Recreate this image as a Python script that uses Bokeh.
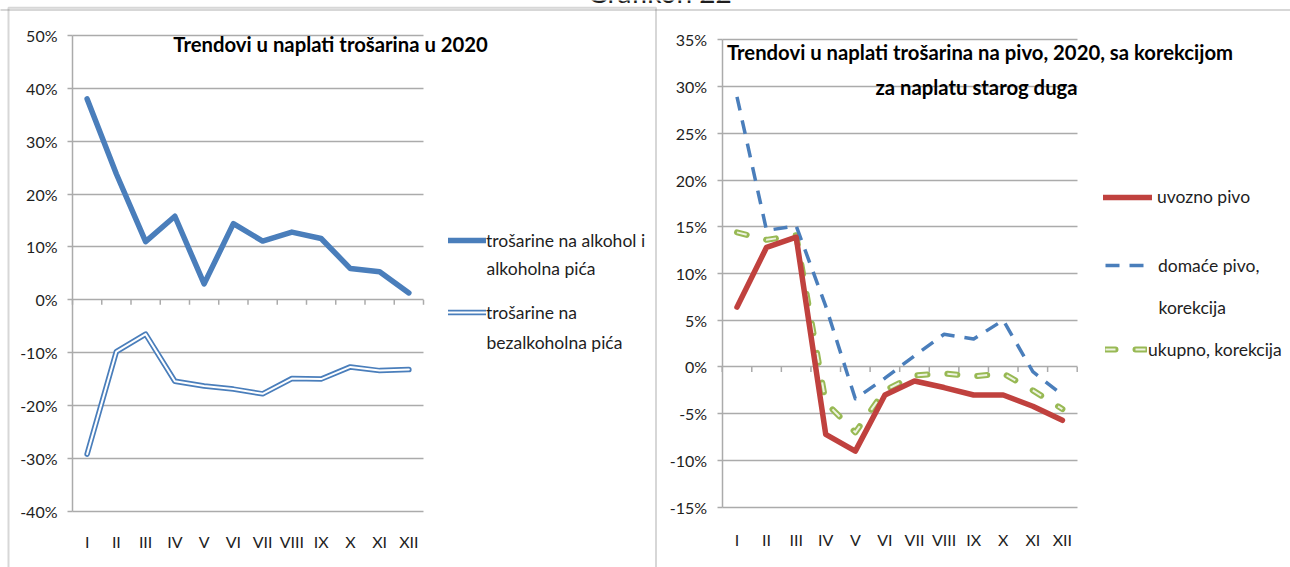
from bokeh.plotting import figure
from bokeh.models import (Range1d, FixedTicker, PrintfTickFormatter, CustomJSTickFormatter, Legend,
                          LegendItem, Label, BoxAnnotation, LinearAxis, Grid)
from bokeh.embed import file_html
from bokeh.resources import INLINE

# ---------------- data ----------------
months = ["I", "II", "III", "IV", "V", "VI", "VII", "VIII", "IX", "X", "XI", "XII"]

# left chart: Trendovi u naplati trošarina u 2020 (%)
alkohol = [38.0, 23.8, 11.0, 15.8, 3.0, 14.4, 11.1, 12.8, 11.6, 5.9, 5.3, 1.3]
bezalkoholna = [-29.2, -9.8, -6.5, -15.4, -16.3, -16.9, -17.8, -14.9, -15.0, -12.7, -13.4, -13.2]
left_ticks = [-40, -30, -20, -10, 0, 10, 20, 30, 40, 50]

# right chart: trošarine na pivo (%)
uvozno = [6.4, 12.8, 13.9, -7.2, -9.0, -3.0, -1.5, -2.2, -3.0, -3.0, -4.2, -5.7]
domace = [28.9, 14.6, 15.1, 6.5, -3.4, -1.2, 1.2, 3.5, 3.0, 5.0, -0.5, -3.0]
ukupno = [14.4, 13.6, 14.1, -3.8, -7.0, -2.5, -0.9, -0.7, -1.0, -0.7, -2.5, -4.5]
right_ticks = [-15, -10, -5, 0, 5, 10, 15, 20, 25, 30, 35]

page_title = "Grafikon 22"
title_left = "Trendovi u naplati  trošarina u 2020"
title_right_1 = "Trendovi u naplati trošarina na pivo, 2020, sa korekcijom"
title_right_2 = "za  naplatu starog duga"

# ---------------- style ----------------
FONT = "Lato"
BLUE = "#4a7ebb"
RED = "#c0413e"
GREEN = "#98b954"
GRID = "#ababab"
BORDER = "#7a7a7a"
TXT = "#1e1e1e"
W, H = 1290, 567
N = len(months)
xs = [i + 0.5 for i in range(N)]          # category centres
edges = list(range(N + 1))                # category boundaries


def ranges(px_l, px_r, px_t, px_b, ymin, ymax):
    """Map the plot area (canvas pixels) to 0..N horizontally and ymin..ymax vertically."""
    ux = (px_r - px_l) / N
    uy = (px_b - px_t) / (ymax - ymin)
    return (Range1d(-px_l / ux, (W - px_l) / ux),
            Range1d(ymin - (H - px_b) / uy, ymax + px_t / uy), uy)


# plot areas (pixels) of the two charts
xl, yl, uyl = ranges(72, 423, 35, 510.7, -40, 50)
xr, yr, uyr = ranges(721.7, 1076.7, 39.3, 506.7, -15, 35)

p = figure(width=W, height=H, output_backend="svg", toolbar_location=None, title=None,
           x_axis_location=None, y_axis_location=None, x_range=xl, y_range=yl,
           min_border=0, min_border_left=0, min_border_right=0,
           min_border_top=0, min_border_bottom=0)
p.extra_x_ranges = {"r": xr}
p.extra_y_ranges = {"r": yr}
p.center = [c for c in p.center if not isinstance(c, Grid)]
p.outline_line_color = None
p.background_fill_color = "white"
p.border_fill_color = "white"


def build_axes(rn, ymin, ymax, ticks, uy, lab_standoff):
    g = Grid(dimension=1, ticker=FixedTicker(ticks=ticks), x_range_name=rn, y_range_name=rn,
             grid_line_color=GRID, grid_line_width=1.5)
    if "cross_bounds" in g.properties():
        g.cross_bounds = (0, N)
        p.add_layout(g, "center")
    else:
        p.segment(x0=[0] * len(ticks), x1=[N] * len(ticks), y0=ticks, y1=ticks,
                  line_color=GRID, line_width=1.5, x_range_name=rn, y_range_name=rn)

    ya = LinearAxis(x_range_name=rn, y_range_name=rn, fixed_location=0, bounds=(ymin, ymax),
                    ticker=FixedTicker(ticks=ticks), formatter=PrintfTickFormatter(format="%d%%"),
                    axis_line_color=GRID, axis_line_width=1.5, major_tick_line_color=GRID,
                    major_tick_line_width=1.5, major_tick_out=5, major_tick_in=0,
                    minor_tick_line_color=None, major_label_standoff=10)
    xa = LinearAxis(x_range_name=rn, y_range_name=rn, fixed_location=ymin, bounds=(0, N),
                    ticker=FixedTicker(ticks=xs),
                    formatter=CustomJSTickFormatter(args=dict(labels=months), code="""
                        const i = Math.round(tick - 0.5);
                        return (i >= 0 && i < labels.length) ? labels[i] : "";
                    """),
                    axis_line_color=None, major_tick_line_color=None, minor_tick_line_color=None,
                    major_label_standoff=lab_standoff)
    for ax in (xa, ya):
        ax.major_label_text_font = FONT
        ax.major_label_text_font_size = "16px"
        ax.major_label_text_color = TXT
    p.add_layout(ya, "left")
    p.add_layout(xa, "below")

    # small tick marks on the 0 % line at category boundaries
    t = 5 / uy
    p.segment(x0=edges, y0=[0] * len(edges), x1=edges, y1=[-t] * len(edges),
              line_color=GRID, line_width=1.5, x_range_name=rn, y_range_name=rn)


def add_leg(label, rends, x, yc, gw, standoff, h=24):
    leg = Legend(items=[LegendItem(label=label, renderers=rends)], location=(x, H - yc - h / 2),
                 orientation="vertical", padding=0, margin=0, spacing=0,
                 glyph_width=gw, glyph_height=h, label_height=h, label_standoff=standoff,
                 border_line_color=None, background_fill_alpha=0,
                 label_text_font=FONT, label_text_font_size="17.5px", label_text_color=TXT)
    p.add_layout(leg, "center")


def add_text(x, yc, text, size="17.5px", bold=False, align="left", baseline="middle"):
    p.add_layout(Label(x=x, y=H - yc, x_units="screen", y_units="screen", text=text,
                       text_font=FONT, text_font_size=size,
                       text_font_style="bold" if bold else "normal",
                       text_color="#000000" if bold else TXT,
                       text_align=align, text_baseline=baseline))


def add_border(left, right, top):
    p.add_layout(BoxAnnotation(left=left, right=right, top=H - top, bottom=-20,
                               left_units="screen", right_units="screen", top_units="screen",
                               bottom_units="screen", fill_alpha=0, line_color=BORDER,
                               line_width=2))


# ---------------- panel frames & page caption (cut off at the top, as in the source) ----------------
add_border(8, 655.5, 7.3)
add_border(-10, W + 20, 9.5)
add_text(659, -8.5, page_title, size="28px", align="center", baseline="alphabetic")

# ---------------- left chart ----------------
build_axes("default", -40, 50, left_ticks, uyl, 15)
r_alk = p.line(xs, alkohol, line_color=BLUE, line_width=5.5, line_join="round", line_cap="round")
r_bez_o = p.line(xs, bezalkoholna, line_color=BLUE, line_width=5.5, line_join="round", line_cap="round")
r_bez_i = p.line(xs, bezalkoholna, line_color="#ffffff", line_width=2, line_join="round", line_cap="round")

add_text(332.5, 43, title_left, size="20.3px", bold=True, align="center")
add_leg("trošarine na alkohol i", [r_alk], 448, 240, 38, 0)
add_text(486, 268, "alkoholna pića")
add_leg("trošarine na", [r_bez_o, r_bez_i], 448, 312, 38, 0)
add_text(486, 342, "bezalkoholna pića")

# ---------------- right chart ----------------
build_axes("r", -15, 35, right_ticks, uyr, 17)
rk = dict(x_range_name="r", y_range_name="r")
r_uk_o = p.line(xs, ukupno, line_color=GREEN, line_width=6, line_dash="10 20",
                line_join="round", line_cap="round", **rk)
r_uk_i = p.line(xs, ukupno, line_color="#eef3e2", line_width=2, line_dash="10 20",
                line_join="round", line_cap="butt", **rk)
r_dom = p.line(xs, domace, line_color=BLUE, line_width=3.5, line_dash="14 10", line_join="round", **rk)
r_uvo = p.line(xs, uvozno, line_color=RED, line_width=5.5, line_join="round", line_cap="round", **rk)

add_text(979.5, 51, title_right_1, size="20.3px", bold=True, align="center")
add_text(978.5, 86, title_right_2, size="20.3px", bold=True, align="center")
add_leg("uvozno pivo", [r_uvo], 1103, 196.7, 49, 5)
add_leg("domaće pivo,", [r_dom], 1105, 265, 48, 5)
add_text(1158, 306.7, "korekcija")
add_leg("ukupno, korekcija", [r_uk_o, r_uk_i], 1105, 349, 42, 1)

open("out.html", "w").write(file_html(p, INLINE))
